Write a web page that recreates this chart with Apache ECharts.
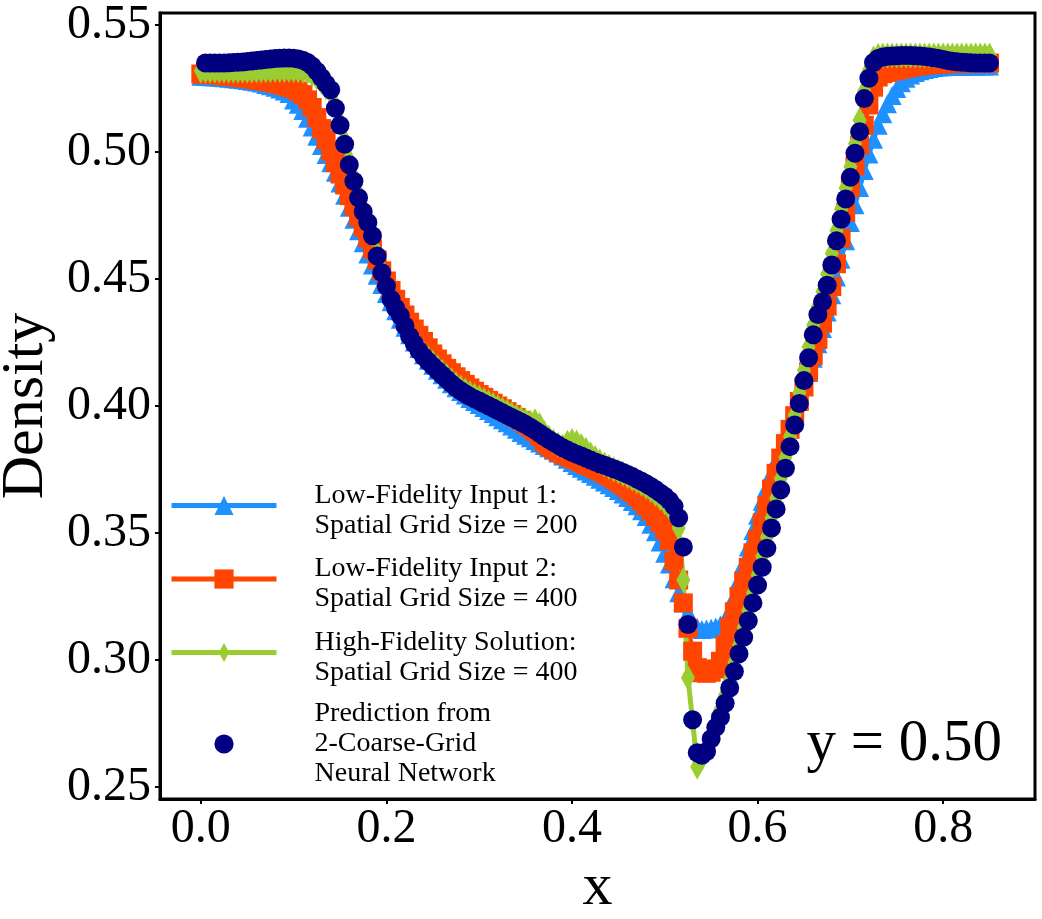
<!DOCTYPE html>
<html>
<head>
<meta charset="utf-8">
<title>Density at y = 0.50</title>
<script src="https://cdn.jsdelivr.net/npm/echarts@6/dist/echarts.min.js"></script>
<style>
  html, body { margin: 0; padding: 0; background: #fff; }
  #main { width: 1042px; height: 919px; }
</style>
</head>
<body>
<div id="main"></div>
<script>
// grid points: x = gridStart + i * gridStep, i = 0..170
var gridStart = 0;
var gridStep = 0.005;

var xTicks = [0.0, 0.2, 0.4, 0.6, 0.8];
var yTicks = [0.25, 0.30, 0.35, 0.40, 0.45, 0.50, 0.55];

var seriesNames = [
    'Low-Fidelity Input 1:\nSpatial Grid Size = 200',
    'Low-Fidelity Input 2:\nSpatial Grid Size = 400',
    'High-Fidelity Solution:\nSpatial Grid Size = 400',
    'Prediction from\n2-Coarse-Grid\nNeural Network'
];

var lowFid1 = [
    0.5298, 0.5297, 0.5296, 0.5295, 0.5294, 0.5292, 0.5290, 0.5288, 0.5286, 0.5284,
    0.5281, 0.5278, 0.5275, 0.5271, 0.5266, 0.5261, 0.5255, 0.5248, 0.5240, 0.5230,
    0.5205, 0.5188, 0.5163, 0.5133, 0.5098, 0.5062, 0.5025, 0.4990, 0.4958, 0.4920,
    0.4878, 0.4830, 0.4782, 0.4735, 0.4690, 0.4643, 0.4598, 0.4555, 0.4515, 0.4478,
    0.4443, 0.4410, 0.4375, 0.4341, 0.4310, 0.4280, 0.4252, 0.4226, 0.4202, 0.4180,
    0.4160, 0.4141, 0.4123, 0.4105, 0.4088, 0.4072, 0.4057, 0.4043, 0.4030, 0.4018,
    0.4006, 0.3994, 0.3982, 0.3970, 0.3958, 0.3946, 0.3934, 0.3921, 0.3908, 0.3896,
    0.3885, 0.3875, 0.3864, 0.3854, 0.3845, 0.3836, 0.3826, 0.3815, 0.3803, 0.3790,
    0.3778, 0.3766, 0.3755, 0.3744, 0.3734, 0.3723, 0.3712, 0.3701, 0.3690, 0.3679,
    0.3667, 0.3654, 0.3640, 0.3624, 0.3607, 0.3588, 0.3565, 0.3535, 0.3505, 0.3465,
    0.3420, 0.3378, 0.3320, 0.3265, 0.3225, 0.3185, 0.3150, 0.3128, 0.3120, 0.3122,
    0.3125, 0.3130, 0.3138, 0.3155, 0.3195, 0.3250, 0.3315, 0.3380, 0.3445, 0.3510,
    0.3570, 0.3625, 0.3680, 0.3735, 0.3785, 0.3833, 0.3880, 0.3928, 0.3975, 0.4025,
    0.4078, 0.4132, 0.4188, 0.4245, 0.4305, 0.4370, 0.4438, 0.4508, 0.4578, 0.4650,
    0.4722, 0.4792, 0.4860, 0.4927, 0.4992, 0.5050, 0.5105, 0.5150, 0.5190, 0.5222,
    0.5250, 0.5272, 0.5290, 0.5303, 0.5313, 0.5320, 0.5325, 0.5329, 0.5332, 0.5334,
    0.5335, 0.5336, 0.5336, 0.5337, 0.5337, 0.5337, 0.5338, 0.5338, 0.5338, 0.5338,
    0.5338
];

var lowFid2 = [
    0.5307, 0.5306, 0.5305, 0.5304, 0.5302, 0.5300, 0.5298, 0.5296, 0.5294, 0.5292,
    0.5290, 0.5287, 0.5284, 0.5281, 0.5278, 0.5275, 0.5271, 0.5266, 0.5261, 0.5256,
    0.5250, 0.5240, 0.5226, 0.5205, 0.5175, 0.5135, 0.5092, 0.5048, 0.5003, 0.4958,
    0.4913, 0.4870, 0.4828, 0.4786, 0.4745, 0.4703, 0.4661, 0.4618, 0.4575, 0.4532,
    0.4492, 0.4455, 0.4420, 0.4388, 0.4358, 0.4330, 0.4303, 0.4278, 0.4254, 0.4229,
    0.4205, 0.4185, 0.4166, 0.4148, 0.4131, 0.4115, 0.4100, 0.4085, 0.4071, 0.4058,
    0.4045, 0.4034, 0.4022, 0.4011, 0.4000, 0.3989, 0.3978, 0.3967, 0.3955, 0.3943,
    0.3930, 0.3916, 0.3900, 0.3880, 0.3858, 0.3842, 0.3830, 0.3820, 0.3811, 0.3803,
    0.3795, 0.3787, 0.3779, 0.3770, 0.3762, 0.3753, 0.3744, 0.3734, 0.3724, 0.3713,
    0.3701, 0.3688, 0.3674, 0.3659, 0.3643, 0.3626, 0.3607, 0.3587, 0.3565, 0.3540,
    0.3512, 0.3470, 0.3390, 0.3315, 0.3225, 0.3125, 0.3035, 0.2970, 0.2950, 0.2948,
    0.2952, 0.2965, 0.2995, 0.3060, 0.3130, 0.3190, 0.3250, 0.3310, 0.3365, 0.3422,
    0.3475, 0.3540, 0.3608, 0.3673, 0.3735, 0.3795, 0.3852, 0.3908, 0.3962, 0.4018,
    0.4075, 0.4135, 0.4198, 0.4262, 0.4326, 0.4393, 0.4470, 0.4560, 0.4660, 0.4762,
    0.4860, 0.4945, 0.5027, 0.5105, 0.5185, 0.5255, 0.5295, 0.5308, 0.5313, 0.5318,
    0.5322, 0.5326, 0.5330, 0.5334, 0.5337, 0.5340, 0.5342, 0.5344, 0.5345, 0.5346,
    0.5347, 0.5348, 0.5348, 0.5349, 0.5349, 0.5350, 0.5350, 0.5350, 0.5350, 0.5350,
    0.5350
];

var highFid = [
    0.5320, 0.5320, 0.5320, 0.5320, 0.5320, 0.5320, 0.5320, 0.5320, 0.5320, 0.5320,
    0.5320, 0.5320, 0.5321, 0.5321, 0.5322, 0.5322, 0.5323, 0.5323, 0.5323, 0.5323,
    0.5323, 0.5322, 0.5320, 0.5315, 0.5306, 0.5293, 0.5275, 0.5255, 0.5235, 0.5180,
    0.5115, 0.5042, 0.4965, 0.4898, 0.4833, 0.4777, 0.4730, 0.4677, 0.4600, 0.4535,
    0.4482, 0.4430, 0.4395, 0.4365, 0.4326, 0.4287, 0.4257, 0.4230, 0.4207, 0.4188,
    0.4170, 0.4153, 0.4135, 0.4118, 0.4101, 0.4086, 0.4073, 0.4061, 0.4050, 0.4041,
    0.4033, 0.4023, 0.4014, 0.4005, 0.3995, 0.3986, 0.3977, 0.3968, 0.3959, 0.3950,
    0.3942, 0.3935, 0.3940, 0.3925, 0.3895, 0.3875, 0.3860, 0.3847, 0.3840, 0.3855,
    0.3862, 0.3856, 0.3843, 0.3828, 0.3810, 0.3795, 0.3782, 0.3770, 0.3760, 0.3751,
    0.3742, 0.3733, 0.3724, 0.3714, 0.3704, 0.3693, 0.3681, 0.3668, 0.3654, 0.3638,
    0.3620, 0.3598, 0.3570, 0.3520, 0.3315, 0.2930, 0.2760, 0.2580, 0.2612, 0.2650,
    0.2700, 0.2752, 0.2805, 0.2862, 0.2925, 0.2990, 0.3060, 0.3128, 0.3195, 0.3265,
    0.3335, 0.3408, 0.3483, 0.3560, 0.3637, 0.3715, 0.3797, 0.3880, 0.3965, 0.4052,
    0.4142, 0.4232, 0.4318, 0.4392, 0.4450, 0.4520, 0.4600, 0.4690, 0.4775, 0.4858,
    0.4942, 0.5032, 0.5125, 0.5240, 0.5322, 0.5368, 0.5378, 0.5380, 0.5380, 0.5380,
    0.5380, 0.5380, 0.5380, 0.5380, 0.5380, 0.5380, 0.5380, 0.5380, 0.5380, 0.5380,
    0.5380, 0.5380, 0.5380, 0.5380, 0.5380, 0.5380, 0.5380, 0.5380, 0.5380, 0.5380,
    0.5380
];

var prediction = [
    null,   0.5350, 0.5350, 0.5350, 0.5350, 0.5350, 0.5351, 0.5352, 0.5353, 0.5354,
    0.5356, 0.5358, 0.5360, 0.5362, 0.5364, 0.5366, 0.5368, 0.5369, 0.5370, 0.5370,
    0.5369, 0.5366, 0.5361, 0.5352, 0.5338, 0.5318, 0.5293, 0.5268, 0.5245, 0.5172,
    0.5105, 0.5030, 0.4950, 0.4885, 0.4820, 0.4765, 0.4722, 0.4670, 0.4590, 0.4525,
    0.4472, 0.4420, 0.4385, 0.4355, 0.4315, 0.4275, 0.4245, 0.4218, 0.4195, 0.4175,
    0.4157, 0.4140, 0.4122, 0.4105, 0.4088, 0.4073, 0.4060, 0.4048, 0.4037, 0.4028,
    0.4020, 0.4010, 0.4001, 0.3992, 0.3982, 0.3973, 0.3964, 0.3955, 0.3946, 0.3937,
    0.3927, 0.3916, 0.3905, 0.3893, 0.3880, 0.3868, 0.3857, 0.3846, 0.3836, 0.3827,
    0.3818, 0.3810, 0.3803, 0.3795, 0.3787, 0.3780, 0.3773, 0.3767, 0.3760, 0.3753,
    0.3746, 0.3738, 0.3730, 0.3722, 0.3713, 0.3704, 0.3694, 0.3683, 0.3671, 0.3658,
    0.3645, 0.3628, 0.3605, 0.3560, 0.3445, 0.3140, 0.2765, 0.2635, 0.2625, 0.2640,
    0.2690, 0.2735, 0.2775, 0.2830, 0.2890, 0.2955, 0.3025, 0.3090, 0.3155, 0.3225,
    0.3295, 0.3365, 0.3440, 0.3520, 0.3595, 0.3670, 0.3755, 0.3840, 0.3925, 0.4010,
    0.4100, 0.4190, 0.4280, 0.4360, 0.4410, 0.4475, 0.4555, 0.4650, 0.4735, 0.4815,
    0.4900, 0.4995, 0.5080, 0.5210, 0.5290, 0.5352, 0.5368, 0.5374, 0.5377, 0.5378,
    0.5379, 0.5380, 0.5380, 0.5380, 0.5379, 0.5378, 0.5376, 0.5374, 0.5371, 0.5368,
    0.5364, 0.5360, 0.5357, 0.5355, 0.5353, 0.5352, 0.5351, 0.5350, 0.5350, 0.5350,
    0.5350
];

function toPoints(arr) {
    return arr.map(function (v, i) {
        return [+(gridStart + i * gridStep).toFixed(4), v];
    });
}

var serif = '"Liberation Serif", "Times New Roman", serif';
var thinDiamond = 'path://M0,0M26,26M13,0L20,13L13,26L6,13Z';

// legend text: two-line entries sit a little below their marker, the
// three-line one is centred on it
function legendLabel(name) {
    var lines = name.split('\n').map(function (s) { return '{t|' + s + '}'; });
    if (lines.length === 2) {
        return '{g| }\n' + lines.join('\n');
    }
    return '{h| }\n' + lines.join('\n') + '\n{h| }';
}

var myChart = echarts.init(document.getElementById('main'));
var option = {
    animation: false,
    backgroundColor: '#fff',
    grid: {
        left: 160,
        right: 7,
        top: 13,
        bottom: 120,
        show: true,
        borderColor: '#000',
        borderWidth: 3,
        outerBoundsMode: 'none'
    },
    legend: {
        orient: 'vertical',
        left: 169,
        top: 475,
        padding: 0,
        itemGap: 9,
        itemWidth: 105,
        itemHeight: 24,
        selectedMode: false,
        formatter: legendLabel,
        textStyle: {
            color: '#000',
            padding: [0, 0, 0, 33],
            rich: {
                t: { fontFamily: serif, fontSize: 28, lineHeight: 30, color: '#000' },
                g: { fontSize: 1, lineHeight: 10 },
                h: { fontSize: 1, lineHeight: 6 }
            }
        },
        data: [
            { name: seriesNames[0], lineStyle: { width: 5 } },
            { name: seriesNames[1], lineStyle: { width: 5 } },
            { name: seriesNames[2], lineStyle: { width: 5 } },
            { name: seriesNames[3] }
        ]
    },
    xAxis: {
        type: 'value',
        min: -0.044,
        max: 0.899,
        name: 'x',
        nameLocation: 'middle',
        nameGap: 50,
        nameTextStyle: { fontFamily: serif, fontSize: 60, color: '#000' },
        axisLine: { show: true, onZero: false, lineStyle: { color: '#000', width: 3 } },
        axisTick: { show: true, inside: false, length: 5, customValues: xTicks, lineStyle: { color: '#000', width: 2 } },
        axisLabel: {
            customValues: xTicks,
            margin: 6,
            fontFamily: serif,
            fontSize: 48,
            color: '#000',
            formatter: function (v) { return v.toFixed(1); }
        },
        splitLine: { show: false }
    },
    yAxis: {
        type: 'value',
        min: 0.2453,
        max: 0.5547,
        name: 'Density',
        nameLocation: 'middle',
        nameGap: 87,
        nameTextStyle: { fontFamily: serif, fontSize: 60, color: '#000' },
        axisLine: { show: true, onZero: false, lineStyle: { color: '#000', width: 3 } },
        axisTick: { show: true, inside: false, length: 5, customValues: yTicks, lineStyle: { color: '#000', width: 2 } },
        axisLabel: {
            customValues: yTicks,
            margin: 9,
            fontFamily: serif,
            fontSize: 48,
            color: '#000',
            formatter: function (v) { return v.toFixed(2); }
        },
        splitLine: { show: false }
    },
    series: [
        {
            name: seriesNames[0],
            type: 'line',
            data: toPoints(lowFid1),
            symbol: 'triangle',
            symbolSize: 19,
            color: '#1E90FF',
            lineStyle: { width: 5, color: '#1E90FF' },
            itemStyle: { color: '#1E90FF' },
            silent: true
        },
        {
            name: seriesNames[1],
            type: 'line',
            data: toPoints(lowFid2),
            symbol: 'rect',
            symbolSize: 19,
            color: '#FF4500',
            lineStyle: { width: 5, color: '#FF4500' },
            itemStyle: { color: '#FF4500' },
            silent: true
        },
        {
            name: seriesNames[2],
            type: 'line',
            data: toPoints(highFid),
            symbol: thinDiamond,
            symbolSize: 26,
            color: '#9ACD32',
            lineStyle: { width: 5, color: '#9ACD32' },
            itemStyle: { color: '#9ACD32' },
            silent: true
        },
        {
            name: seriesNames[3],
            type: 'line',
            data: toPoints(prediction),
            symbol: 'circle',
            symbolSize: 19,
            color: '#000080',
            lineStyle: { width: 0, color: '#000080' },
            itemStyle: { color: '#000080' },
            silent: true
        }
    ],
    graphic: [
        {
            type: 'text',
            x: 1002,
            y: 744,
            style: {
                text: 'y = 0.50',
                font: '59px ' + serif,
                fill: '#000',
                textAlign: 'right',
                textVerticalAlign: 'middle'
            }
        }
    ]
};

myChart.setOption(option);
</script>
</body>
</html>
